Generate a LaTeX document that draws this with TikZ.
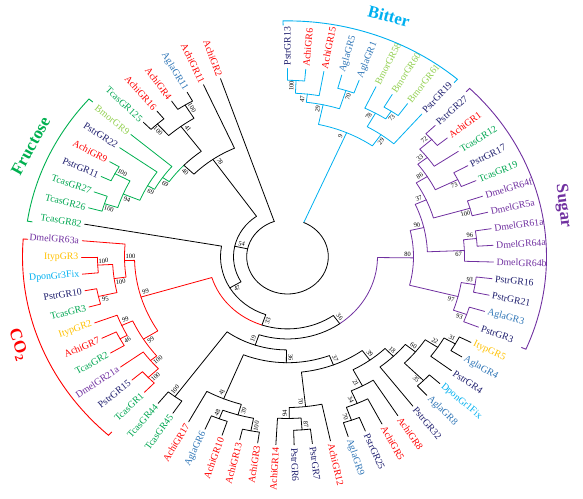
\documentclass[tikz,border=0pt]{standalone}
\usepackage{fontspec}
\setmainfont{Liberation Serif}

\definecolor{bitter}{HTML}{00B0F0}
\definecolor{sugar}{HTML}{7030A0}
\definecolor{co2}{HTML}{FF0000}
\definecolor{fruct}{HTML}{00B050}
\definecolor{Pstr}{HTML}{1F1F6E}
\definecolor{Achi}{HTML}{FF0000}
\definecolor{Agla}{HTML}{2E75B6}
\definecolor{Bmor}{HTML}{92D050}
\definecolor{Tcas}{HTML}{00A651}
\definecolor{Dmel}{HTML}{7030A0}
\definecolor{Ityp}{HTML}{FFC000}
\definecolor{Dpon}{HTML}{00B0F0}

\tikzset{
  branch/.style={line width=0.8pt, line cap=round, line join=round},
  bracket/.style={line width=0.9pt},
  leaflabel/.style={inner sep=1pt, font=\fontsize{9.8}{11}\selectfont},
  bootnum/.style={inner sep=0pt, font=\fontsize{6.5}{7}\selectfont},
  grouptitle/.style={inner sep=0pt, font=\fontsize{17}{19}\selectfont\bfseries}
}

\newcommand\tipr{206}
\newcommand\rootr{40.8}
\newcommand\leafstep{5.09}
\newcommand\squeezey{0.914}

\newcommand\setnode[5]{%
  \expandafter\xdef\csname ta@#1\endcsname{#2}%
  \expandafter\xdef\csname tr@#1\endcsname{#3}%
  \expandafter\xdef\csname tc@#1\endcsname{#4}%
  \expandafter\xdef\csname tb@#1\endcsname{#5}}

\newcommand\bootlabel[2]{%
  \edef\bootval{\csname tb@#1\endcsname}%
  \ifx\bootval\empty\else
    \edef\bootang{\csname ta@#1\endcsname}%
    \edef\bootrad{\csname tr@#1\endcsname}%
    \pgfmathsetmacro\bootang{\bootang#2257.8/\bootrad}%
    \pgfmathsetmacro\bootrad{\bootrad-6}%
    \pgfmathsetmacro\bootrot{atan2(\squeezey*sin(\bootang),cos(\bootang))}%
    \pgfmathtruncatemacro\bootside{cos(\bootang)<0}%
    \ifnum\bootside=1 \pgfmathsetmacro\bootrot{\bootrot+180}\fi
    \node[bootnum, rotate=\bootrot] (b-#1) at (\bootang:\bootrad) {\bootval};%
  \fi}

\newcommand\leaf[4]{%
  \pgfmathsetmacro\lfA{90-\leafstep*#3}%
  \setnode{#1#2}{\lfA}{\tipr}{#4}{}%
  \coordinate (#1#2) at (\lfA:\tipr);%
  \pgfmathsetmacro\lfR{atan2(\squeezey*sin(\lfA),cos(\lfA))}%
  \pgfmathtruncatemacro\lfS{cos(\lfA)<0}%
  \ifnum\lfS=1
    \pgfmathsetmacro\lfR{\lfR+180}%
    \node[leaflabel, text=#1, anchor=east, rotate=\lfR] (t-#1#2) at (\lfA:\tipr+2) {#1#2};%
  \else
    \node[leaflabel, text=#1, anchor=west, rotate=\lfR] (t-#1#2) at (\lfA:\tipr+2) {#1#2};%
  \fi}

\newcommand\clade[6]{%
  \edef\cldA{\csname ta@#3\endcsname}%
  \edef\cldB{\csname ta@#4\endcsname}%
  \edef\cldCA{\csname tc@#3\endcsname}%
  \edef\cldCB{\csname tc@#4\endcsname}%
  \pgfmathsetmacro\cldM{(\cldA+\cldB)/2}%
  \setnode{#1}{\cldM}{#2}{#5}{#6}%
  \coordinate (#1) at (\cldM:#2);%
  \draw[branch, draw=\cldCA] (#1) arc[start angle=\cldM, end angle=\cldA, radius=#2] -- (#3);%
  \draw[branch, draw=\cldCB] (#1) arc[start angle=\cldM, end angle=\cldB, radius=#2] -- (#4);%
  \bootlabel{#3}{+}%
  \bootlabel{#4}{-}}

\newcommand\rootstem[2]{%
  \edef\cldA{\csname ta@#1\endcsname}%
  \edef\cldCA{\csname tc@#1\endcsname}%
  \coordinate (#1-in) at (\cldA:\rootr);%
  \draw[branch, draw=\cldCA] (#1-in) -- (#1);%
  \bootlabel{#1}{#2}}

\begin{document}
\begin{tikzpicture}[x=1pt, y=1pt]
\useasboundingbox (-287.5,-241.3) rectangle (295.5,256.7);
\begin{scope}[yscale=0.914]

\leaf{Pstr}{GR13}{0}{bitter}
\leaf{Achi}{GR6}{1}{bitter}
\leaf{Achi}{GR15}{2}{bitter}
\leaf{Agla}{GR5}{3}{bitter}
\leaf{Agla}{GR1}{4}{bitter}
\leaf{Bmor}{GR58}{5}{bitter}
\leaf{Bmor}{GR60}{6}{bitter}
\leaf{Bmor}{GR61}{7}{bitter}
\leaf{Pstr}{GR19}{8}{bitter}
\leaf{Pstr}{GR27}{9}{sugar}
\leaf{Achi}{GR1}{10}{sugar}
\leaf{Tcas}{GR12}{11}{sugar}
\leaf{Pstr}{GR17}{12}{sugar}
\leaf{Tcas}{GR19}{13}{sugar}
\leaf{Dmel}{GR64f}{14}{sugar}
\leaf{Dmel}{GR5a}{15}{sugar}
\leaf{Dmel}{GR61a}{16}{sugar}
\leaf{Dmel}{GR64a}{17}{sugar}
\leaf{Dmel}{GR64b}{18}{sugar}
\leaf{Pstr}{GR16}{19}{sugar}
\leaf{Pstr}{GR21}{20}{sugar}
\leaf{Agla}{GR3}{21}{sugar}
\leaf{Pstr}{GR3}{22}{sugar}
\leaf{Ityp}{GR5}{23}{black}
\leaf{Agla}{GR4}{24}{black}
\leaf{Pstr}{GR4}{25}{black}
\leaf{Dpon}{Gr1Fix}{26}{black}
\leaf{Agla}{GR8}{27}{black}
\leaf{Pstr}{GR32}{28}{black}
\leaf{Achi}{GR8}{29}{black}
\leaf{Achi}{GR5}{30}{black}
\leaf{Pstr}{GR25}{31}{black}
\leaf{Agla}{GR9}{32}{black}
\leaf{Achi}{GR12}{33}{black}
\leaf{Pstr}{GR7}{34}{black}
\leaf{Pstr}{GR6}{35}{black}
\leaf{Achi}{GR14}{36}{black}
\leaf{Achi}{GR3}{37}{black}
\leaf{Achi}{GR13}{38}{black}
\leaf{Achi}{GR10}{39}{black}
\leaf{Agla}{GR6}{40}{black}
\leaf{Achi}{GR17}{41}{black}
\leaf{Tcas}{GR45}{42}{black}
\leaf{Tcas}{GR44}{43}{black}
\leaf{Tcas}{GR1}{44}{co2}
\leaf{Pstr}{GR15}{45}{co2}
\leaf{Dmel}{GR21a}{46}{co2}
\leaf{Tcas}{GR2}{47}{co2}
\leaf{Achi}{GR7}{48}{co2}
\leaf{Ityp}{GR2}{49}{co2}
\leaf{Tcas}{GR3}{50}{co2}
\leaf{Pstr}{GR10}{51}{co2}
\leaf{Dpon}{Gr3Fix}{52}{co2}
\leaf{Ityp}{GR3}{53}{co2}
\leaf{Dmel}{GR63a}{54}{co2}
\leaf{Tcas}{GR82}{55}{black}
\leaf{Tcas}{GR26}{56}{fruct}
\leaf{Tcas}{GR27}{57}{fruct}
\leaf{Pstr}{GR11}{58}{fruct}
\leaf{Achi}{GR9}{59}{fruct}
\leaf{Pstr}{GR22}{60}{fruct}
\leaf{Bmor}{GR9}{61}{fruct}
\leaf{Tcas}{GR125}{62}{black}
\leaf{Achi}{GR16}{63}{black}
\leaf{Achi}{GR4}{64}{black}
\leaf{Agla}{GR11}{65}{black}
\leaf{Achi}{GR11}{66}{black}
\leaf{Achi}{GR2}{67}{black}

\clade{b100}{193}{PstrGR13}{AchiGR6}{bitter}{100}
\clade{b47}{179}{b100}{AchiGR15}{bitter}{47}
\clade{b70}{191}{AglaGR5}{AglaGR1}{bitter}{70}
\clade{b29a}{170}{b47}{b70}{bitter}{29}
\clade{b73}{190}{BmorGR60}{BmorGR61}{bitter}{73}
\clade{b78}{180}{BmorGR58}{b73}{bitter}{78}
\clade{b29b}{163}{b78}{PstrGR19}{bitter}{29}
\clade{b9}{148}{b29a}{b29b}{bitter}{9}

\clade{s72}{193}{PstrGR27}{AchiGR1}{sugar}{72}
\clade{s33}{177}{s72}{TcasGR12}{sugar}{33}
\clade{s73}{190}{PstrGR17}{TcasGR19}{sugar}{73}
\clade{s86}{165}{s33}{s73}{sugar}{86}
\clade{s100}{190}{DmelGR64f}{DmelGR5a}{sugar}{100}
\clade{s37}{152}{s86}{s100}{sugar}{37}
\clade{s96}{190}{DmelGR61a}{DmelGR64a}{sugar}{96}
\clade{s67}{177}{s96}{DmelGR64b}{sugar}{67}
\clade{s90}{140}{s37}{s67}{sugar}{90}
\clade{s93a}{190}{PstrGR16}{PstrGR21}{sugar}{93}
\clade{s93b}{190}{AglaGR3}{PstrGR3}{sugar}{93}
\clade{s97}{176}{s93a}{s93b}{sugar}{97}
\clade{s80}{126}{s90}{s97}{sugar}{80}

\clade{t31}{193}{ItypGR5}{AglaGR4}{black}{31}
\clade{t22}{180}{t31}{PstrGR4}{black}{22}
\clade{t35}{192}{DponGr1Fix}{AglaGR8}{black}{35}
\clade{t60}{165}{t22}{t35}{black}{60}
\clade{t18}{152}{t60}{PstrGR32}{black}{18}
\clade{t70}{190}{PstrGR25}{AglaGR9}{black}{70}
\clade{t34}{175}{AchiGR5}{t70}{black}{34}
\clade{t21}{160}{AchiGR8}{t34}{black}{21}
\clade{t39}{140}{t18}{t21}{black}{39}
\clade{t87}{190}{PstrGR7}{PstrGR6}{black}{87}
\clade{t94}{177}{t87}{AchiGR14}{black}{94}
\clade{t70b}{165}{AchiGR12}{t94}{black}{70}
\clade{t37}{127}{t39}{t70b}{black}{37}
\clade{t100}{194}{AchiGR3}{AchiGR13}{black}{100}
\clade{t48}{190}{AchiGR10}{AglaGR6}{black}{48}
\clade{t39b}{180}{t100}{t48}{black}{39}
\clade{t41}{168}{t39b}{AchiGR17}{black}{41}
\clade{t36}{116}{t37}{t41}{black}{36}
\clade{t100b}{190}{TcasGR45}{TcasGR44}{black}{100}
\clade{t19}{102}{t36}{t100b}{black}{19}

\clade{c100d}{192}{TcasGR1}{PstrGR15}{co2}{100}
\clade{c100e}{178}{c100d}{DmelGR21a}{co2}{100}
\clade{c46}{190}{TcasGR2}{AchiGR7}{co2}{46}
\clade{c99a}{182}{c46}{ItypGR2}{co2}{99}
\clade{c99b}{170}{c100e}{c99a}{co2}{99}
\clade{c95}{194}{TcasGR3}{PstrGR10}{co2}{95}
\clade{c100a}{190}{DponGr3Fix}{ItypGR3}{co2}{100}
\clade{c100b}{175}{c95}{c100a}{co2}{100}
\clade{c100c}{163}{c100b}{DmelGR63a}{co2}{100}
\clade{c99c}{153}{c99b}{c100c}{co2}{99}

\clade{f100b}{192}{TcasGR26}{TcasGR27}{fruct}{100}
\clade{f100a}{195}{PstrGR11}{AchiGR9}{fruct}{100}
\clade{f94}{178}{f100b}{f100a}{fruct}{94}
\clade{f69a}{160}{f94}{PstrGR22}{fruct}{69}
\clade{f69b}{152}{f69a}{BmorGR9}{fruct}{69}
\clade{k100a}{195}{TcasGR125}{AchiGR16}{black}{100}
\clade{k100b}{195}{AchiGR4}{AglaGR11}{black}{100}
\clade{k41}{178}{k100a}{k100b}{black}{41}
\clade{k40}{144}{f69b}{k41}{black}{40}
\clade{k78}{130}{k40}{AchiGR11}{black}{78}

\clade{q36}{90}{s80}{t19}{black}{36}
\clade{q33}{79}{q36}{c99c}{black}{33}
\clade{q47}{67}{q33}{TcasGR82}{black}{47}
\clade{q54}{54}{q47}{k78}{black}{54}

\rootstem{b9}{+}
\rootstem{q54}{-}
\rootstem{AchiGR2}{+}
\edef\cldA{\csname ta@b9\endcsname}
\edef\cldB{\csname ta@AchiGR2\endcsname}
\draw[branch] (b9-in) arc[start angle=\cldA, end angle=\cldB, radius=\rootr];

\draw[bracket, bitter] (91:253) -- (91:258) arc[start angle=91, end angle=48.8, radius=258] -- (48.8:253);
\draw[bracket, sugar] (45.3:254) -- (45.3:259) arc[start angle=45.3, end angle=-23, radius=259] -- (-23:254);
\draw[bracket, fruct] (139:258) -- (139:263) arc[start angle=139, end angle=171.5, radius=263] -- (171.5:258);
\draw[bracket, co2] (175.8:260) -- (175.8:265) arc[start angle=175.8, end angle=227.5, radius=265] -- (227.5:260);

\node[grouptitle, text=bitter, rotate=-15] (bittertitle) at (68.9:282) {Bitter};
\node[grouptitle, text=sugar, rotate=-83] (sugartitle) at (11.4:281) {Sugar};
\node[grouptitle, text=fruct, rotate=61] (fructtitle) at (154.7:284) {Fructose};
\node[grouptitle, text=co2, rotate=-72] (co2title) at (199.7:286) {CO\textsubscript{2}};

\end{scope}
\end{tikzpicture}
\end{document}
